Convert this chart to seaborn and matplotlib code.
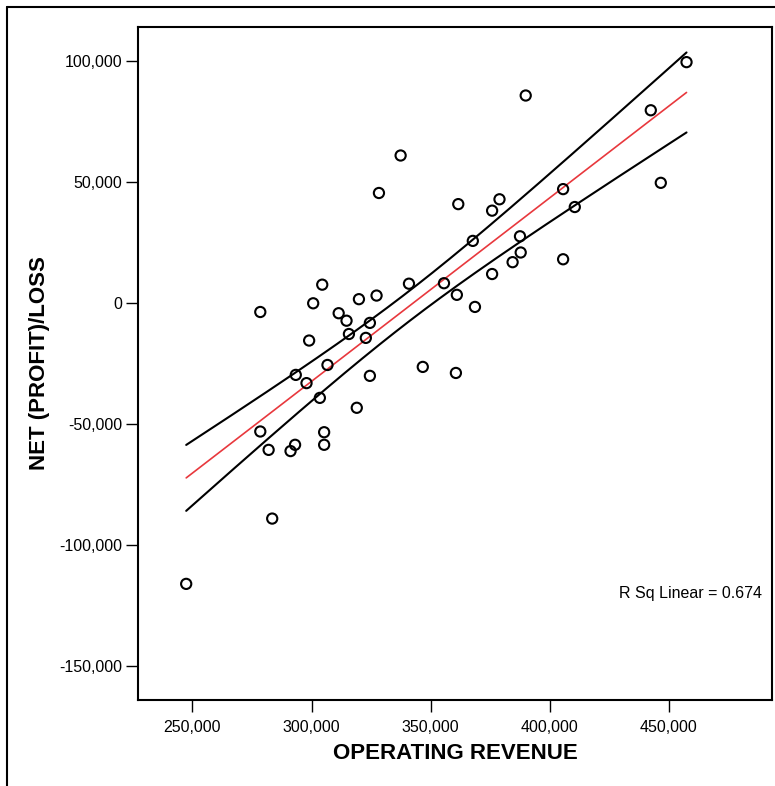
import numpy as np
import pandas as pd
import matplotlib
matplotlib.use("Agg")
import matplotlib.pyplot as plt
from matplotlib.lines import Line2D
from matplotlib.ticker import FuncFormatter, FixedLocator
import seaborn as sns

# Operating revenue and net (profit)/loss per observation
operating_revenue = [
    457400, 442400, 389900, 446600, 405600, 410500, 337400, 328300,
    361600, 375800, 378900, 367700, 387500, 387800, 384400, 375800,
    405600, 340900, 355600, 361000, 368600, 304500, 300700, 327300,
    319900, 311400, 324500, 314700, 315700, 322800, 299000, 278500,
    293400, 297900, 306700, 324500, 346700, 360600, 303500, 319000,
    278500, 305300, 305300, 293100, 282000, 291200, 283500, 247400,
]
net_profit_loss = [
    99500, 79600, 85700, 49600, 47000, 39600, 60900, 45400,
    40800, 38100, 42800, 25600, 27500, 20800, 16800, 11900,
    18000, 7900, 8100, 3300, -1700, 7500, -200, 3000,
    1500, -4300, -8300, -7400, -12900, -14500, -15600, -3800,
    -29800, -33200, -25700, -30200, -26500, -29000, -39300, -43400,
    -53200, -53500, -58700, -58700, -60800, -61300, -89200, -116200,
]
x_ticks = [250000, 300000, 350000, 400000, 450000]
y_ticks = [-150000, -100000, -50000, 0, 50000, 100000]
r_sq_label = "R Sq Linear = 0.674"

df = pd.DataFrame({"OPERATING REVENUE": operating_revenue,
                   "NET (PROFIT)/LOSS": net_profit_loss})

# Least-squares fit with a 90% confidence band for the mean
x = df["OPERATING REVENUE"].to_numpy(float)
y = df["NET (PROFIT)/LOSS"].to_numpy(float)
n = len(x)
slope, intercept = np.polyfit(x, y, 1)
resid = y - (intercept + slope * x)
s = np.sqrt((resid ** 2).sum() / (n - 2))
sxx = ((x - x.mean()) ** 2).sum()
t_crit = 1.679  # t(0.95, df=46)
xs = np.linspace(x.min(), x.max(), 200)
fit = intercept + slope * xs
half = t_crit * s * np.sqrt(1.0 / n + (xs - x.mean()) ** 2 / sxx)
band = pd.DataFrame({"x": xs, "fit": fit, "lo": fit - half, "hi": fit + half})

sns.set_theme(style="white")
plt.rcParams["font.family"] = ["Liberation Sans", "DejaVu Sans"]

fig = plt.figure(figsize=(7.75, 7.86), dpi=100)
ax = fig.add_axes([138.3 / 775, 86.5 / 786, 634 / 775, 672.2 / 786])

sns.lineplot(data=band, x="x", y="hi", ax=ax, color="black", linewidth=1.5, sort=False)
sns.lineplot(data=band, x="x", y="lo", ax=ax, color="black", linewidth=1.5, sort=False)
sns.lineplot(data=band, x="x", y="fit", ax=ax, color="#e8383d", linewidth=1.2, sort=False)
sns.scatterplot(data=df, x="OPERATING REVENUE", y="NET (PROFIT)/LOSS", ax=ax,
                s=54, marker="o", facecolors="none", edgecolor="black",
                linewidth=1.5, zorder=3)
ax.collections[-1].set_facecolor("none")

ax.set_xlim(227300, 493400)
ax.set_ylim(-164000, 113900)
ax.xaxis.set_major_locator(FixedLocator(x_ticks))
ax.yaxis.set_major_locator(FixedLocator(y_ticks))
fmt = FuncFormatter(lambda v, p: f"{v:,.0f}")
ax.xaxis.set_major_formatter(fmt)
ax.yaxis.set_major_formatter(fmt)

for sp in ax.spines.values():
    sp.set_visible(True)
    sp.set_color("black")
    sp.set_linewidth(1.5)
ax.tick_params(axis="both", which="major", direction="out", length=8.5,
               width=1.0, color="black", labelsize=11.5, labelcolor="black",
               bottom=True, left=True)
ax.tick_params(axis="x", pad=6)
ax.tick_params(axis="y", pad=3)

ax.set_xlabel("OPERATING REVENUE", fontsize=16, fontweight="bold",
              labelpad=6, color="black")
ax.set_ylabel("NET (PROFIT)/LOSS", fontsize=16, fontweight="bold",
              labelpad=7, color="black")

ax.text(0.9838, 0.1584, r_sq_label, transform=ax.transAxes, ha="right",
        va="center", fontsize=11.5, color="black")

# Outer frame lines along the top and left of the figure
fig.add_artist(Line2D([7 / 775, 1.0], [1 - 7 / 786, 1 - 7 / 786],
                      transform=fig.transFigure, color="black", linewidth=1.5))
fig.add_artist(Line2D([7 / 775, 7 / 775], [0.0, 1 - 7 / 786],
                      transform=fig.transFigure, color="black", linewidth=1.5))

fig.savefig("out.png", dpi=100, facecolor="white")
